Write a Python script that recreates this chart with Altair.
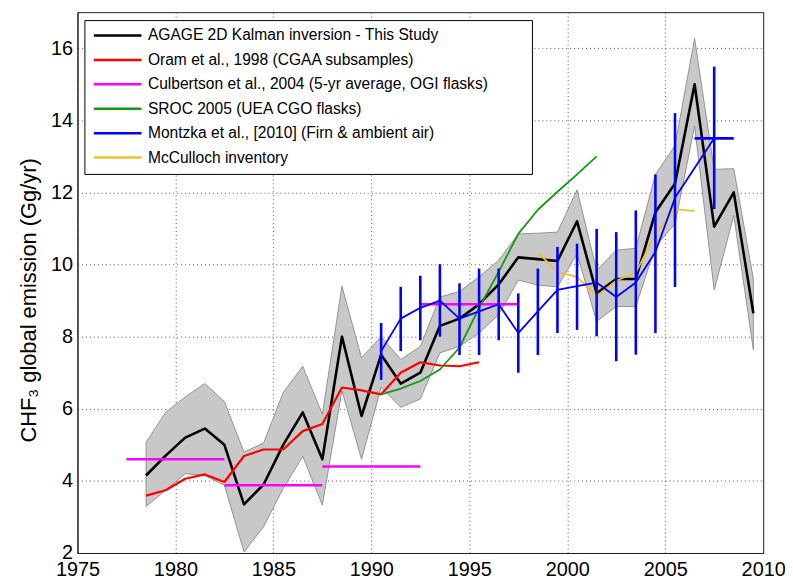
import altair as alt
import pandas as pd

FONT = "Liberation Sans"

names = [
    "AGAGE 2D Kalman inversion - This Study",
    "Oram et al., 1998 (CGAA subsamples)",
    "Culbertson et al., 2004 (5-yr average, OGI flasks)",
    "SROC 2005 (UEA CGO flasks)",
    "Montzka et al., [2010] (Firn & ambient air)",
    "McCulloch inventory",
]
colors = ["#000000", "#FF0000", "#FF00FF", "#159915", "#0000FF", "#EDC033"]

x_ticks = [1975, 1980, 1985, 1990, 1995, 2000, 2005, 2010]
y_ticks = [2, 4, 6, 8, 10, 12, 14, 16]

# AGAGE 2D Kalman inversion (black line + grey uncertainty band)
agage_years = [1978.5, 1979.5, 1980.5, 1981.5, 1982.5, 1983.5, 1984.5, 1985.5,
               1986.5, 1987.5, 1988.5, 1989.5, 1990.5, 1991.5, 1992.5, 1993.5,
               1994.5, 1995.5, 1996.5, 1997.5, 1998.5, 1999.5, 2000.5, 2001.5,
               2002.5, 2003.5, 2004.5, 2005.5, 2006.5, 2007.5, 2008.5, 2009.5]
agage = [4.15, 4.7, 5.2, 5.45, 5.0, 3.35, 3.9, 5.0,
         5.9, 4.6, 8.0, 5.8, 7.5, 6.7, 7.0, 8.3,
         8.5, 8.9, 9.45, 10.2, 10.15, 10.1, 11.2, 9.2,
         9.6, 9.6, 11.45, 12.25, 15.0, 11.05, 12.0, 8.65]
agage_upper = [5.07, 5.9, 6.33, 6.7, 6.2, 4.8, 5.05, 6.45,
               7.18, 5.85, 9.4, 7.41, 8.0, 7.37, 7.73, 9.1,
               9.25, 9.66, 10.12, 10.85, 10.87, 10.9, 12.07, 9.84,
               10.4, 10.45, 12.5, 13.3, 16.27, 12.64, 12.66, 9.6]
agage_lower = [3.29, 3.74, 4.2, 4.15, 3.88, 2.03, 2.73, 3.79,
               4.68, 3.33, 6.5, 4.6, 6.6, 6.04, 6.27, 7.55,
               7.73, 8.1, 8.61, 9.57, 9.43, 9.38, 10.3, 8.42,
               8.84, 8.83, 10.5, 11.13, 13.84, 9.29, 11.36, 7.64]

# Oram et al., 1998
oram_years = [1978.5, 1979.5, 1980.5, 1981.5, 1982.5, 1983.5, 1984.5, 1985.5, 1986.5,
              1987.5, 1988.5, 1989.5, 1990.5, 1991.5, 1992.5, 1993.5, 1994.5, 1995.5]
oram = [3.59, 3.74, 4.06, 4.18, 3.97, 4.69, 4.87, 4.87, 5.38,
        5.58, 6.59, 6.51, 6.40, 7.0, 7.29, 7.2, 7.18, 7.29]

# Culbertson et al., 2004 (5-yr averages: start, end, value)
culb_start = [1977.5, 1982.5, 1987.5, 1992.5]
culb_end = [1982.5, 1987.5, 1992.5, 1997.5]
culb_val = [4.6, 3.88, 4.4, 8.9]

# SROC 2005
sroc_years = [1990.5, 1991.5, 1992.5, 1993.5, 1994.5, 1995.5,
              1996.5, 1997.5, 1998.5, 1999.5, 2000.5, 2001.5]
sroc = [6.4, 6.56, 6.77, 7.09, 7.7, 8.8, 9.8, 10.85, 11.52, 12.02, 12.5, 13.0]

# Montzka et al., 2010 (value with error range)
mont_years = [1990.5, 1991.5, 1992.5, 1993.5, 1994.5, 1995.5, 1996.5, 1997.5, 1998.5,
              1999.5, 2000.5, 2001.5, 2002.5, 2003.5, 2004.5, 2005.5, 2007.5]
mont = [7.6, 8.5, 8.8, 9.0, 8.5, 8.7, 8.9, 8.1, 8.7,
        9.3, 9.4, 9.5, 9.1, 9.5, 10.35, 11.85, 13.5]
mont_lo = [6.8, 7.6, 7.9, 8.0, 7.49, 7.49, 7.9, 7.0, 7.49,
           8.1, 8.19, 8.01, 7.32, 7.5, 8.1, 9.38, 11.54]
mont_hi = [8.38, 9.38, 9.69, 10.01, 9.48, 9.89, 9.89, 9.2, 9.89,
           10.49, 10.58, 10.99, 10.9, 11.5, 12.5, 14.2, 15.49]
mont_xerr_start = [2006.5]
mont_xerr_end = [2008.5]
mont_xerr_val = [13.5]

# McCulloch inventory
mcc_years = [1998.5, 1999.5, 2000.5, 2001.5, 2002.5, 2003.5, 2004.5, 2005.5, 2006.5]
mcc = [10.33, 9.8, 9.66, 9.13, 9.55, 9.78, 10.83, 11.54, 11.48]

# ---------- data frames ----------
df_agage = pd.DataFrame({"year": agage_years, "value": agage, "upper": agage_upper,
                         "lower": agage_lower, "series": names[0], "seg": 0})
df_oram = pd.DataFrame({"year": oram_years, "value": oram, "series": names[1], "seg": 0})
culb_rows = []
for i, (s, e, v) in enumerate(zip(culb_start, culb_end, culb_val)):
    culb_rows.append({"year": s, "value": v, "series": names[2], "seg": i})
    culb_rows.append({"year": e, "value": v, "series": names[2], "seg": i})
df_culb = pd.DataFrame(culb_rows)
df_sroc = pd.DataFrame({"year": sroc_years, "value": sroc, "series": names[3], "seg": 0})
df_mont = pd.DataFrame({"year": mont_years, "value": mont, "lo": mont_lo, "hi": mont_hi,
                        "series": names[4], "seg": 0})
df_mont_x = pd.DataFrame({"x1": mont_xerr_start, "x2": mont_xerr_end, "value": mont_xerr_val})
df_mcc = pd.DataFrame({"year": mcc_years, "value": mcc, "series": names[5], "seg": 0})

Y_TITLE = "CHF\u2083 global emission (Gg/yr)"
xscale = alt.Scale(domain=[1975, 2010], nice=False, zero=False)
yscale = alt.Scale(domain=[2, 17], nice=False, zero=False)

xaxis = alt.Axis(values=x_ticks, format="d", title=None, labelFlush=False,
                 labelOverlap=False, labelPadding=7)
yaxis = alt.Axis(values=y_ticks, format="d", labelOverlap=False, labelPadding=5,
                 titleX=-49, titleY=290, titleAngle=270, titleBaseline="middle",
                 titleAlign="center")


def X(field):
    return alt.X(field, type="quantitative", scale=xscale, axis=xaxis, title=None)


def Y(field):
    return alt.Y(field, type="quantitative", scale=yscale, axis=yaxis, title=Y_TITLE)


# blank (invisible) padding glyphs widen the legend box like the original's
BLANK = "\u2800\u2800\u2800"
legend = alt.Legend(
    title=None, orient="none", legendX=7, legendY=8,
    symbolType="stroke", symbolSize=2304, symbolStrokeWidth=2.5,
    clipHeight=15, rowPadding=7.6, padding=8, labelOffset=5, symbolOffset=0,
    labelFontSize=15.7, labelFont=FONT, labelColor="black", labelLimit=700,
    labelExpr="datum.label + '" + BLANK + "'",
    strokeColor="black", fillColor="white",
)
COLOR = alt.Color("series:N", scale=alt.Scale(domain=names, range=colors), legend=legend)

band = alt.Chart(df_agage).mark_area(fill="#C8C8C8", stroke="#808080", strokeWidth=0.8,
                                     opacity=1).encode(x=X("year"), y=Y("upper"), y2="lower")


def line(df, width):
    return alt.Chart(df).mark_line(strokeWidth=width, strokeJoin="round").encode(
        x=X("year"), y=Y("value"), color=COLOR, detail="seg:N")


black = line(df_agage, 2.6)
red = line(df_oram, 2.2)
mag = line(df_culb, 2.6)
green = line(df_sroc, 1.8)
blue_line = line(df_mont, 1.8)
yellow = line(df_mcc, 1.8)

blue_bars = alt.Chart(df_mont).mark_rule(color="#0000FF", strokeWidth=2.6).encode(
    x=X("year"), y=Y("lo"), y2="hi")
blue_hbar = alt.Chart(df_mont_x).mark_rule(color="#0000FF", strokeWidth=2.6).encode(
    x=X("x1"), x2="x2", y=Y("value"))

chart = alt.layer(band, black, red, mag, green, yellow, blue_bars, blue_hbar, blue_line).properties(
    width=691, height=545,
    autosize=alt.AutoSizeParams(type="none"),
    padding={"left": 70, "top": 2, "right": 22, "bottom": 24},
    background="white",
).configure_view(
    stroke="#222222", strokeWidth=1
).configure_axis(
    labelFont=FONT, labelFontSize=20, labelColor="black",
    titleFont=FONT, titleFontSize=22, titleFontWeight="normal", titleColor="black",
    domainColor="#222222", ticks=False,
    grid=True, gridColor="#444444", gridDash=[1, 3], gridWidth=1, gridOpacity=0.9,
)

chart.save("out.html", embed_options={"renderer": "svg", "actions": False})
